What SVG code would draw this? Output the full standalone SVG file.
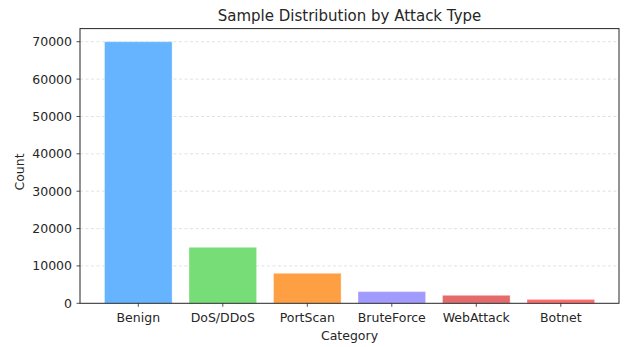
<svg xmlns="http://www.w3.org/2000/svg" width="624" height="347" viewBox="0 0 624 347">
  <style>
    text { font-family: "DejaVu Sans", "Liberation Sans", sans-serif; fill: #262626; }
    .tick { font-size: 12.5px; }
    .ylab { text-anchor: end; dominant-baseline: central; }
    .xlab { text-anchor: middle; }
    .grid { stroke: #d9d9d9; stroke-width: 0.8; stroke-dasharray: 3 2.5; }
    .tk { stroke: #262626; stroke-width: 0.8; }
    .bar { stroke: #ffffff; stroke-opacity: 0.35; stroke-width: 1; }
  </style>
  <rect width="624" height="347" fill="#ffffff"/>

  <!-- title -->
  <text x="349.5" y="21" text-anchor="middle" font-size="15px">Sample Distribution by Attack Type</text>

  <!-- horizontal grid -->
  <g id="grid">
    <line class="grid" x1="80" y1="41.7" x2="619" y2="41.7"/>
    <line class="grid" x1="80" y1="79.1" x2="619" y2="79.1"/>
    <line class="grid" x1="80" y1="116.5" x2="619" y2="116.5"/>
    <line class="grid" x1="80" y1="153.8" x2="619" y2="153.8"/>
    <line class="grid" x1="80" y1="191.2" x2="619" y2="191.2"/>
    <line class="grid" x1="80" y1="228.6" x2="619" y2="228.6"/>
    <line class="grid" x1="80" y1="265.9" x2="619" y2="265.9"/>
  </g>

  <!-- bars -->
  <g id="bar-benign"><rect class="bar" x="104.5" y="41.7" width="67.6" height="261.6" fill="#66b3ff"/></g>
  <g id="bar-dos"><rect class="bar" x="189" y="247.3" width="67.6" height="56" fill="#77dd77"/></g>
  <g id="bar-portscan"><rect class="bar" x="273.5" y="273.3" width="67.6" height="30" fill="#ff9f43"/></g>
  <g id="bar-bruteforce"><rect class="bar" x="358" y="291.6" width="67.6" height="11.7" fill="#a29bfe"/></g>
  <g id="bar-webattack"><rect class="bar" x="442.5" y="295.3" width="67.6" height="8" fill="#e56b6b"/></g>
  <g id="bar-botnet"><rect class="bar" x="527" y="299.4" width="67.6" height="3.9" fill="#ff6b6b"/></g>

  <!-- axes frame -->
  <rect x="80" y="28.6" width="539" height="274.7" fill="none" stroke="#262626" stroke-width="1"/>

  <!-- y ticks -->
  <g id="y-axis">
    <line class="tk" x1="76.5" y1="41.7" x2="80" y2="41.7"/>
    <line class="tk" x1="76.5" y1="79.1" x2="80" y2="79.1"/>
    <line class="tk" x1="76.5" y1="116.5" x2="80" y2="116.5"/>
    <line class="tk" x1="76.5" y1="153.8" x2="80" y2="153.8"/>
    <line class="tk" x1="76.5" y1="191.2" x2="80" y2="191.2"/>
    <line class="tk" x1="76.5" y1="228.6" x2="80" y2="228.6"/>
    <line class="tk" x1="76.5" y1="265.9" x2="80" y2="265.9"/>
    <line class="tk" x1="76.5" y1="303.3" x2="80" y2="303.3"/>
    <text class="tick ylab" x="72" y="41.7">70000</text>
    <text class="tick ylab" x="72" y="79.1">60000</text>
    <text class="tick ylab" x="72" y="116.5">50000</text>
    <text class="tick ylab" x="72" y="153.8">40000</text>
    <text class="tick ylab" x="72" y="191.2">30000</text>
    <text class="tick ylab" x="72" y="228.6">20000</text>
    <text class="tick ylab" x="72" y="265.9">10000</text>
    <text class="tick ylab" x="72" y="303.3">0</text>
    <text x="24" y="172" font-size="12.5px" text-anchor="middle" transform="rotate(-90 24 172)">Count</text>
  </g>

  <!-- x ticks -->
  <g id="x-axis">
    <line class="tk" x1="138.3" y1="303.3" x2="138.3" y2="306.8"/>
    <line class="tk" x1="222.8" y1="303.3" x2="222.8" y2="306.8"/>
    <line class="tk" x1="307.3" y1="303.3" x2="307.3" y2="306.8"/>
    <line class="tk" x1="391.8" y1="303.3" x2="391.8" y2="306.8"/>
    <line class="tk" x1="476.3" y1="303.3" x2="476.3" y2="306.8"/>
    <line class="tk" x1="560.8" y1="303.3" x2="560.8" y2="306.8"/>
    <text class="tick xlab" x="138.3" y="321.5">Benign</text>
    <text class="tick xlab" x="222.8" y="321.5">DoS/DDoS</text>
    <text class="tick xlab" x="307.3" y="321.5">PortScan</text>
    <text class="tick xlab" x="391.8" y="321.5">BruteForce</text>
    <text class="tick xlab" x="476.3" y="321.5">WebAttack</text>
    <text class="tick xlab" x="560.8" y="321.5">Botnet</text>
    <text class="tick xlab" x="349.5" y="339.5">Category</text>
  </g>
</svg>
